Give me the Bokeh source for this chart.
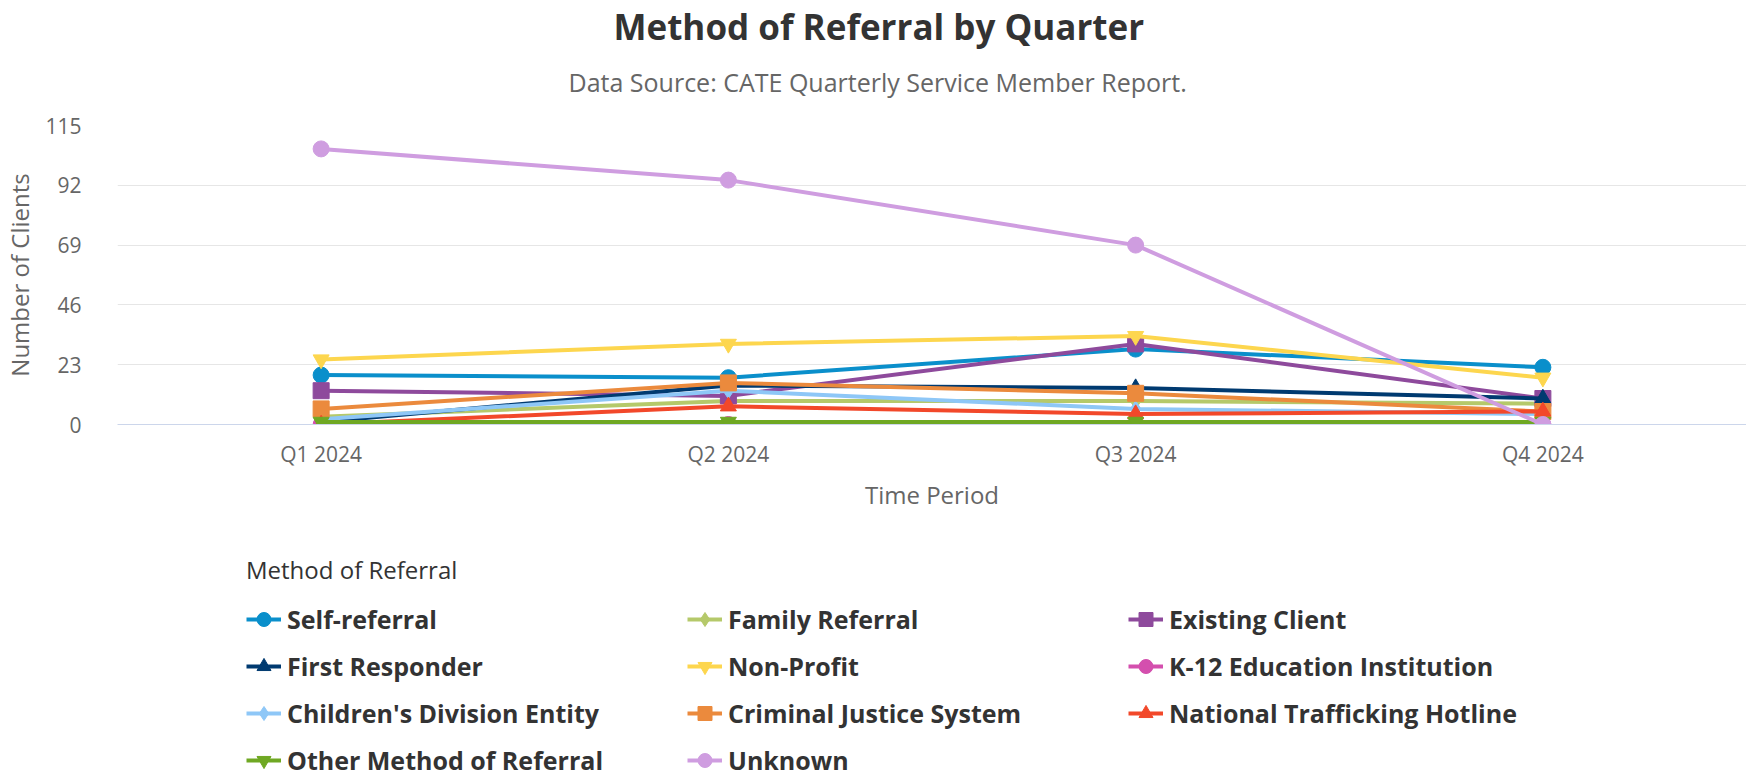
from bokeh.plotting import figure
from bokeh.layouts import column
from bokeh.models import FactorRange, Range1d, FixedTicker, Legend, LegendItem, Title
from bokeh.embed import file_html
from bokeh.resources import INLINE

quarters = ["Q1 2024", "Q2 2024", "Q3 2024", "Q4 2024"]
y_ticks = [0, 23, 46, 69, 92, 115]

series_names = [
    "Self-referral", "Family Referral", "Existing Client",
    "First Responder", "Non-Profit", "K-12 Education Institution",
    "Children's Division Entity", "Criminal Justice System", "National Trafficking Hotline",
    "Other Method of Referral", "Unknown",
]
self_referral = [19, 18, 29, 22]
family_referral = [3, 9, 9, 8]
existing_client = [13, 11, 31, 10]
first_responder = [1, 15, 14, 10]
non_profit = [25, 31, 34, 18]
k12_education = [0, 0, 0, 0]
childrens_division = [2, 13, 6, 4]
criminal_justice = [6, 16, 12, 5]
national_hotline = [0, 7, 4, 5]
other_method = [1, 1, 1, 1]
unknown = [106, 94, 69, 0]

series_values = [self_referral, family_referral, existing_client, first_responder, non_profit,
                 k12_education, childrens_division, criminal_justice, national_hotline,
                 other_method, unknown]
series_colors = ["#0a8fcb", "#b5c96a", "#8e4a9c", "#003a70", "#fdd64e", "#d44fae",
                 "#8ec7f7", "#eb8a3d", "#f2482a", "#6fa823", "#cf9de0"]
series_markers = ["circle", "diamond", "square", "triangle", "inverted_triangle", "circle",
                  "diamond", "square", "triangle", "inverted_triangle", "circle"]

FONT = "Open Sans"
W = 1746

p = figure(width=W, height=520,
           x_range=FactorRange(factors=quarters), y_range=Range1d(0, 115),
           output_backend="svg", toolbar_location=None,
           min_border_left=104, min_border_right=0, min_border_top=125, min_border_bottom=96)
p.outline_line_color = None
p.background_fill_color = "white"
p.border_fill_color = "white"

# titles: spacer next to the plot, then subtitle, then main title
p.add_layout(Title(text=" ", text_font_size="1px", standoff=11), "above")
p.add_layout(Title(text="Data Source: CATE Quarterly Service Member Report.", align="left",
                   offset=451, text_font=FONT, text_font_size="25px", text_font_style="normal",
                   text_color="#666666", standoff=26), "above")
p.add_layout(Title(text="Method of Referral by Quarter", align="left", offset=496,
                   text_font=FONT, text_font_size="35px", text_font_style="bold",
                   text_color="#333333", standoff=0), "above")

# axes
xa = p.xaxis[0]
xa.axis_line_color = "#ccd6eb"
xa.axis_line_width = 1
xa.major_tick_line_color = None
xa.minor_tick_line_color = None
xa.major_label_text_font = FONT
xa.major_label_text_font_size = "21px"
xa.major_label_text_color = "#666666"
xa.major_label_standoff = 9
xa.axis_label = "Time Period"
xa.axis_label_text_font = FONT
xa.axis_label_text_font_size = "24px"
xa.axis_label_text_font_style = "normal"
xa.axis_label_text_color = "#666666"
xa.axis_label_standoff = 7

ya = p.yaxis[0]
ya.ticker = FixedTicker(ticks=y_ticks)
ya.axis_line_color = None
ya.major_tick_line_color = None
ya.minor_tick_line_color = None
ya.major_label_text_font = FONT
ya.major_label_text_font_size = "21px"
ya.major_label_text_color = "#666666"
ya.major_label_standoff = 30
ya.axis_label = "Number of Clients"
ya.axis_label_text_font = FONT
ya.axis_label_text_font_size = "24px"
ya.axis_label_text_font_style = "normal"
ya.axis_label_text_color = "#666666"
ya.axis_label_standoff = 6

p.xgrid.grid_line_color = None
p.ygrid.grid_line_color = "#e6e6e6"
p.ygrid.grid_line_width = 1

for name, vals, col, mk in zip(series_names, series_values, series_colors, series_markers):
    p.line(quarters, vals, line_color=col, line_width=4)
    p.scatter(quarters, vals, marker=mk, size=16, fill_color=col, line_color=col)

# legend panel (separate figure below the chart; its own copies of the series lie
# outside its visible range, only the legend is seen)
lg = figure(width=W, height=256, x_range=FactorRange(factors=quarters), y_range=Range1d(1000, 1001),
            output_backend="svg", toolbar_location=None, x_axis_type=None, y_axis_type=None,
            min_border_left=0, min_border_right=0, min_border_top=0, min_border_bottom=0)
lg.outline_line_color = None
lg.xgrid.grid_line_color = None
lg.ygrid.grid_line_color = None

items = []
for name, vals, col, mk in zip(series_names, series_values, series_colors, series_markers):
    ln = lg.line(quarters, vals, line_color=col, line_width=4)
    sc = lg.scatter(quarters, vals, marker=mk, size=16, fill_color=col, line_color=col)
    items.append(LegendItem(label=name, renderers=[ln, sc]))

legend = Legend(items=items, orientation="horizontal", ncols=3,
                title="Method of Referral", title_text_font=FONT, title_text_font_size="24px",
                title_text_font_style="normal", title_text_color="#333333", title_standoff=14,
                label_text_font=FONT, label_text_font_size="25px", label_text_font_style="bold",
                label_text_color="#333333", glyph_width=35, glyph_height=38,
                label_width=391, label_height=20, label_standoff=6, spacing=9,
                padding=0, margin=0, border_line_color=None, background_fill_alpha=0,
                location=(129, -3))
lg.add_layout(legend, "center")

layout = column(p, lg, spacing=0)
open("out.html", "w").write(file_html(layout, INLINE))
